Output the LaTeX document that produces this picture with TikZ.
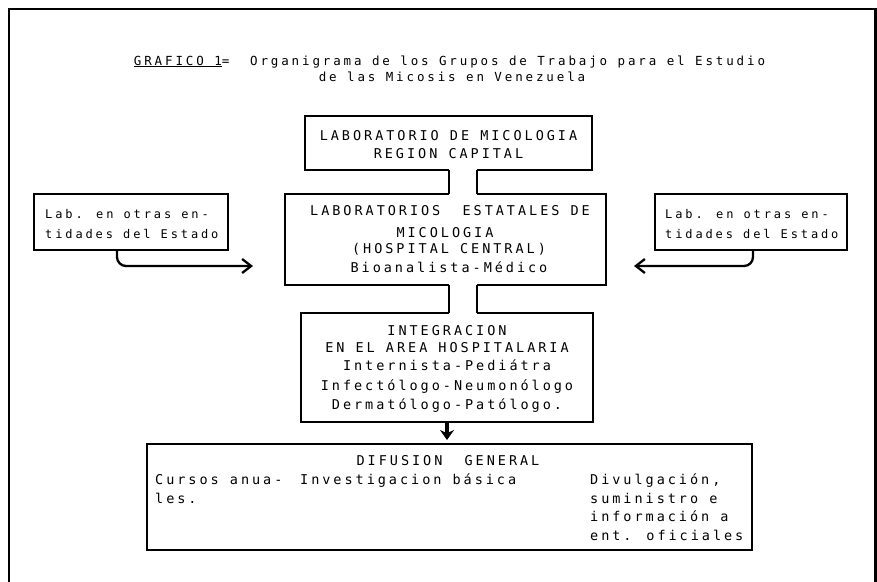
\documentclass[tikz,border=0pt]{standalone}
\usepackage{fontspec}
\newfontfamily\twmain[LetterSpace=22]{DejaVu Sans Mono}
\newfontfamily\twsmall[LetterSpace=24]{DejaVu Sans Mono}
\newfontfamily\twtitle[LetterSpace=23]{DejaVu Sans Mono}
\usetikzlibrary{arrows.meta}
\begin{document}
\begin{tikzpicture}[x=1pt,y=-1pt,
 box/.style={draw, line width=1.2pt, inner sep=0pt, outer sep=0pt},
 ln/.style={anchor=base, inner sep=0pt, font=\twmain\fontsize{13.5}{16}\selectfont},
 lnw/.style={ln, anchor=base west},
 sm/.style={anchor=base west, inner sep=0pt, font=\twsmall\fontsize{12}{14}\selectfont},
 ttl/.style={anchor=base, inner sep=0pt, font=\twtitle\fontsize{12.5}{15}\selectfont},
 side/.style={line width=2.3pt, rounded corners=9pt, -{Straight Barb[length=9pt,width=14pt]}},
 down/.style={line width=3.6pt, -{Stealth[length=10pt,width=14pt]}}
]
\useasboundingbox (0,0) rectangle (877,581);
% frame
\draw[line width=2.5pt] (9,585) -- (9,9) -- (875.5,9) -- (875.5,585);

% title
\node[ttl] (t1) at (449.5,65) {\underline{GRAFICO 1}=\ \ Organigrama de los Grupos de Trabajo para el Estudio};
\node[ttl] (t2) at (452,81) {de las Micosis en Venezuela};

% boxes
\node[box, minimum width=287pt, minimum height=54pt] (b1) at (448.5,143) {};
\node[box, minimum width=321pt, minimum height=91pt] (b2) at (445.5,239.5) {};
\node[box, minimum width=292pt, minimum height=109pt] (b3) at (447,367.5) {};
\node[box, minimum width=605pt, minimum height=106pt] (b4) at (449.5,497) {};
\node[box, minimum width=194pt, minimum height=56pt] (lb) at (131,222) {};
\node[box, minimum width=192pt, minimum height=56pt] (rb) at (751,222) {};

% stems
\coordinate (sL) at (449,0);
\coordinate (sR) at (477,0);
\fill[white] ([yshift=1pt]b1.south -| sL) rectangle ([yshift=-1pt]b2.north -| sR);
\fill[white] ([yshift=1pt]b2.south -| sL) rectangle ([yshift=-1pt]b3.north -| sR);
\draw[line width=1.2pt] (b1.south -| sL) -- (b2.north -| sL);
\draw[line width=1.2pt] (b1.south -| sR) -- (b2.north -| sR);
\draw[line width=1.2pt] (b2.south -| sL) -- (b3.north -| sL);
\draw[line width=1.2pt] (b2.south -| sR) -- (b3.north -| sR);

% down arrow
\coordinate (ax) at (447,0);
\coordinate (atip) at (447,440);
\draw[down] (b3.south -| ax) -- (atip);

% side arrows
\coordinate (la) at (117,0);
\coordinate (lt) at (253,266);
\draw[side] (lb.south -| la) |- (lt);
\coordinate (ra) at (753,0);
\coordinate (rt) at (634,266);
\draw[side] (rb.south -| ra) |- (rt);

% box texts
\node[ln] (b1a) at (448.5,140) {LABORATORIO DE MICOLOGIA};
\node[ln] (b1b) at (448.5,158) {REGION CAPITAL};

\node[ln] (b2a) at (450,215) {LABORATORIOS\ \ ESTATALES DE};
\node[ln] (b2b) at (445,237) {MICOLOGIA};
\node[ln] (b2c) at (449,253) {(HOSPITAL CENTRAL)};
\node[ln] (b2d) at (449,272) {Bioanalista-Médico};

\node[ln] (b3a) at (447,335) {INTEGRACION};
\node[ln] (b3b) at (447,352) {EN EL AREA HOSPITALARIA};
\node[ln] (b3c) at (447,370) {Internista-Pediátra};
\node[ln] (b3d) at (447,390) {Infectólogo-Neumonólogo};
\node[ln] (b3e) at (447,409) {Dermatólogo-Patólogo.};

\node[ln] (b4a) at (448,465) {DIFUSION\ \ GENERAL};
\node[lnw] (b4b) at (155,484) {Cursos anua-};
\node[lnw] (b4c) at (155,503) {les.};
\node[lnw] (b4d) at (300,484) {Investigacion básica};
\node[lnw] (b4e) at (590,484) {Divulgación,};
\node[lnw] (b4f) at (590,503) {suministro e};
\node[lnw] (b4g) at (590,521) {información a};
\node[lnw] (b4h) at (590,540) {ent. oficiales};

\node[sm] (lba) at (45,218) {Lab. en otras en-};
\node[sm] (lbb) at (45,238) {tidades del Estado};
\node[sm] (rba) at (665,218) {Lab. en otras en-};
\node[sm] (rbb) at (665,238) {tidades del Estado};
\end{tikzpicture}
\end{document}
